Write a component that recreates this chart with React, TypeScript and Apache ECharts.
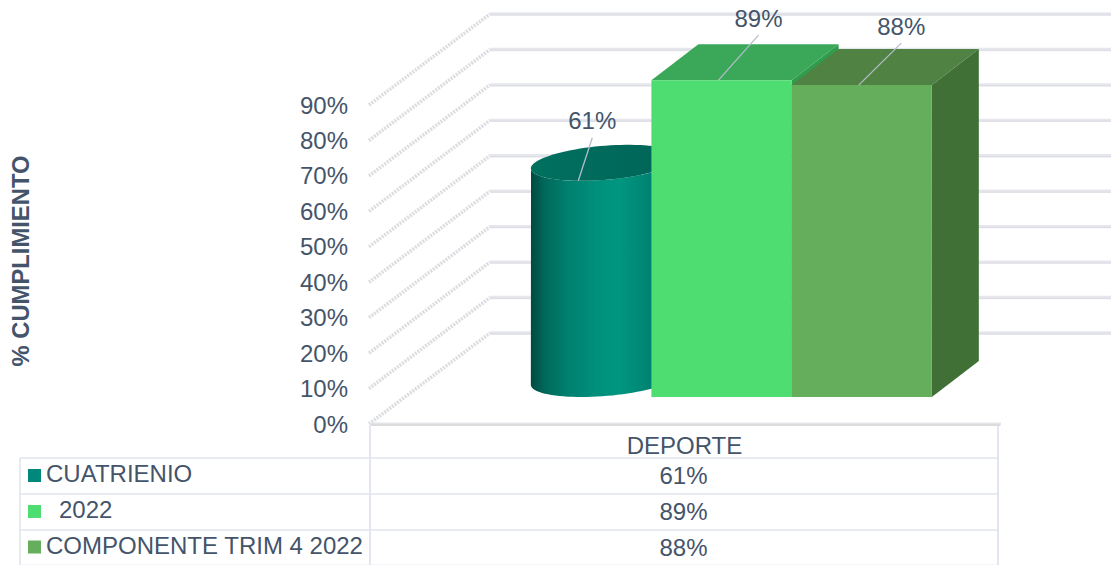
import React, { useEffect, useRef } from "react";
import * as echarts from "echarts";

const categories = ["DEPORTE"];
const seriesNames = ["CUATRIENIO", "2022", "COMPONENTE TRIM 4 2022"];
const cuatrienio = [61];
const anio2022 = [89.4];
const componente = [88];
const yTicks = [0, 10, 20, 30, 40, 50, 60, 70, 80, 90];
const yTitle = "% CUMPLIMIENTO";

const FONT = "Liberation Sans, Arial, sans-serif";
const TEXT = "#44546a";
const FS = 24;
const WALL = { dx: 121, dy: -91 };
const FLOOR = { dx: 37, dy: -27 };
const DEPTH = { dx: 47, dy: -36 };
const LEADER = "#b4bccb";
const GROUP_BANDS = 4.5;

function labelParts(anchorX: number, anchorY: number, ox: number, oy: number, value: number) {
  return [
    {
      type: "line",
      shape: { x1: anchorX, y1: anchorY, x2: anchorX + ox, y2: anchorY + oy },
      style: { stroke: LEADER, lineWidth: 1.3 },
    },
    {
      type: "text",
      style: {
        text: Math.round(value) + "%",
        x: anchorX + ox,
        y: anchorY + oy - 17,
        fill: TEXT,
        fontSize: FS,
        fontFamily: FONT,
        align: "center",
        verticalAlign: "middle",
      },
    },
  ];
}

function boxGeometry(api: any, index: number) {
  const band = api.size([1, 0])[0];
  const w = band / GROUP_BANDS;
  const cx = api.coord([api.value(0), 0])[0];
  const base = api.coord([api.value(0), 0])[1];
  const top = api.coord([api.value(0), api.value(1)])[1];
  const left = cx - 1.5 * w + index * w + FLOOR.dx;
  const yBase = base + FLOOR.dy;
  const h = base - top;
  return { w, left, yBase, yTop: yBase - h };
}

function renderBox(index: number, c: { front: string; top: string; side: string }, ox: number, oy: number) {
  return (_p: any, api: any) => {
    const { w, left, yBase, yTop } = boxGeometry(api, index);
    const right = left + w;
    return {
      type: "group",
      children: [
        {
          type: "polygon",
          shape: {
            points: [
              [left, yTop],
              [left + DEPTH.dx, yTop + DEPTH.dy],
              [right + DEPTH.dx, yTop + DEPTH.dy],
              [right, yTop],
            ],
          },
          style: { fill: c.top },
        },
        {
          type: "polygon",
          shape: {
            points: [
              [right, yTop],
              [right + DEPTH.dx, yTop + DEPTH.dy],
              [right + DEPTH.dx, yBase + DEPTH.dy],
              [right, yBase],
            ],
          },
          style: { fill: c.side },
        },
        { type: "rect", shape: { x: left, y: yTop, width: w, height: yBase - yTop }, style: { fill: c.front } },
        ...labelParts(left + w / 2 - 3, yTop, ox, oy, api.value(1)),
      ],
    };
  };
}

function renderCylinder(index: number, ox: number, oy: number) {
  return (_p: any, api: any) => {
    const { w, left, yBase, yTop } = boxGeometry(api, index);
    const cx = left + w / 2 + DEPTH.dx / 2;
    const pt = (cy: number, deg: number) => {
      const t = (deg * Math.PI) / 180;
      return [cx + (w / 2) * Math.cos(t) + (DEPTH.dx / 2) * Math.sin(t), cy + (DEPTH.dy / 2) * Math.sin(t)];
    };
    const cyBot = yBase + DEPTH.dy / 2;
    const cyTop = yTop + DEPTH.dy / 2;
    const tan = (Math.atan2(DEPTH.dx, w) * 180) / Math.PI;
    const body: number[][] = [];
    for (let d = 180 + tan; d <= 360 + tan; d += 4) body.push(pt(cyBot, d));
    for (let d = 360 + tan; d >= 180 + tan; d -= 4) body.push(pt(cyTop, d));
    const cap: number[][] = [];
    for (let d = 0; d < 360; d += 4) cap.push(pt(cyTop, d));
    return {
      type: "group",
      children: [
        {
          type: "polygon",
          shape: { points: body },
          style: {
            fill: new echarts.graphic.LinearGradient(0, 0, 1, 0, [
              { offset: 0, color: "#004a40" },
              { offset: 0.1, color: "#006a5c" },
              { offset: 0.25, color: "#00806f" },
              { offset: 0.45, color: "#00917c" },
              { offset: 0.6, color: "#009680" },
              { offset: 0.85, color: "#007f6e" },
              { offset: 1, color: "#006558" },
            ]),
          },
        },
        {
          type: "polygon",
          shape: { points: cap },
          style: {
            fill: new echarts.graphic.LinearGradient(0, 0, 1, 0, [
              { offset: 0, color: "#00705f" },
              { offset: 0.5, color: "#006a5b" },
              { offset: 1, color: "#006558" },
            ]),
          },
        },
        ...labelParts(left + w / 2 - 3, yTop, ox, oy, api.value(1)),
      ],
    };
  };
}

function renderWall(params: any, api: any) {
  const y = api.coord([0, api.value(0)])[1];
  const x0 = params.coordSys.x;
  const xb = x0 + WALL.dx;
  const isBase = api.value(0) === 0;
  const children: any[] = [
    {
      type: "line",
      shape: { x1: x0, y1: y, x2: xb, y2: y + WALL.dy },
      style: { stroke: "#dcdde0", lineWidth: 3.6, lineDash: [2, 1.2] },
    },
    {
      type: "line",
      shape: { x1: xb, y1: y + WALL.dy, x2: 1111, y2: y + WALL.dy },
      style: { stroke: "#e6e7ed", lineWidth: 3.4 },
    },
    {
      type: "line",
      shape: { x1: xb, y1: y + WALL.dy + 0.8, x2: 1111, y2: y + WALL.dy + 0.8 },
      style: { stroke: "#dcdde3", lineWidth: 1 },
    },
  ];
  if (isBase) {
    children.push(
      {
        type: "line",
        shape: { x1: x0, y1: y, x2: x0 + params.coordSys.width + 1, y2: y },
        style: { stroke: "#e4e5e9", lineWidth: 3 },
      },
      {
        type: "line",
        shape: { x1: x0 + 2, y1: y + 1.2, x2: x0 + params.coordSys.width, y2: y + 1.2 },
        style: { stroke: "#d3d4d6", lineWidth: 1.2 },
      }
    );
  }
  return { type: "group", children };
}

const KEY_COLORS = ["#00897a", "#4edd70", "#65ae5b"];
const ROW_Y = [458, 494, 530, 565];
const TABLE = { x0: 20, x1: 370, x2: 998, top: 426, stroke: "#e0e4ec" };
const NAME_X = [46, 59, 46];

function tableGraphics() {
  const values = [cuatrienio[0], anio2022[0], componente[0]];
  const els: any[] = [];
  const line = (x1: number, y1: number, x2: number, y2: number, w = 1.6) => ({
    type: "line",
    shape: { x1, y1, x2, y2 },
    style: { stroke: TABLE.stroke, lineWidth: w },
  });
  ROW_Y.forEach((y, i) => {
    els.push(i === 0 ? line(TABLE.x0, y, TABLE.x2, y) : line(TABLE.x0, y, TABLE.x2, y, i === 3 ? 0.8 : 1.6));
  });
  els.push(line(TABLE.x0, ROW_Y[0], TABLE.x0, 565));
  els.push(line(TABLE.x1, TABLE.top, TABLE.x1, 565, 1.8));
  els.push(line(TABLE.x2, TABLE.top, TABLE.x2, 565, 1.8));
  seriesNames.forEach((name, i) => {
    const cy = (ROW_Y[i] + ROW_Y[i + 1]) / 2;
    els.push({
      type: "rect",
      shape: { x: 28, y: cy - 1.5 - 5.5, width: 13, height: 13 },
      style: { fill: KEY_COLORS[i] },
    });
    els.push({
      type: "text",
      x: NAME_X[i],
      y: cy - 2.5,
      style: { text: name, fill: TEXT, fontSize: FS, fontFamily: FONT, align: "left", verticalAlign: "middle" },
    });
    els.push({
      type: "text",
      x: 683.5,
      y: cy - 0.5,
      style: { text: Math.round(values[i]) + "%", fill: TEXT, fontSize: FS, fontFamily: FONT, align: "center", verticalAlign: "middle" },
    });
  });
  return els;
}

export default function App() {
  const ref = useRef<HTMLDivElement>(null);
  useEffect(() => {
    if (!ref.current) return;
    const chart = echarts.init(ref.current, undefined, { renderer: "svg" });
    chart.setOption({
      animation: false,
      backgroundColor: "#ffffff",
      grid: { left: 368, width: 632, top: 105, height: 319 },
      xAxis: {
        type: "category",
        data: categories,
        axisLine: { show: false },
        axisTick: { show: false },
        axisLabel: { color: TEXT, fontSize: FS, fontFamily: FONT, margin: 9, interval: 0 },
      },
      yAxis: {
        type: "value",
        min: 0,
        max: 90,
        interval: 10,
        name: yTitle,
        nameLocation: "middle",
        nameGap: 337,
        nameRotate: 90,
        nameTextStyle: { color: TEXT, fontSize: 23.8, fontFamily: FONT, fontWeight: "bold", padding: [0, 0, 0, 7] },
        axisLine: { show: false },
        axisTick: { show: false },
        splitLine: { show: false },
        axisLabel: { color: TEXT, fontSize: FS, fontFamily: FONT, margin: 21, formatter: "{value}%" },
      },
      graphic: { elements: tableGraphics() },
      series: [
        {
          type: "custom",
          name: "wall",
          data: yTicks.map((t) => [t]),
          encode: { y: 0 },
          renderItem: renderWall,
          silent: true,
        },
        {
          type: "custom",
          name: seriesNames[0],
          data: cuatrienio.map((v, i) => [i, v]),
          encode: { x: 0, y: 1 },
          renderItem: renderCylinder(0, 14, -43),
        },
        {
          type: "custom",
          name: seriesNames[1],
          data: anio2022.map((v, i) => [i, v]),
          encode: { x: 0, y: 1 },
          renderItem: renderBox(1, { front: "#4edd70", top: "#3aa858", side: "#2f9c4e" }, 40, -45),
        },
        {
          type: "custom",
          name: seriesNames[2],
          data: componente.map((v, i) => [i, v]),
          encode: { x: 0, y: 1 },
          renderItem: renderBox(2, { front: "#65ae5b", top: "#4f8243", side: "#417037" }, 42.5, -42),
        },
      ],
    });
    return () => chart.dispose();
  }, []);
  return <div ref={ref} style={{ position: "absolute", left: 0, top: 0, width: 1111, height: 565 }} />;
}
